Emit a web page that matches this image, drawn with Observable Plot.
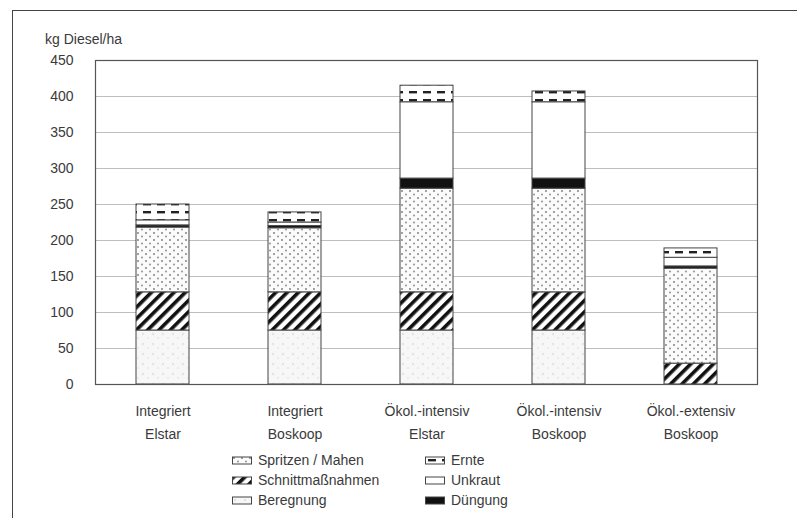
<!DOCTYPE html>
<html>
<head>
<meta charset="utf-8">
<script src="https://cdn.jsdelivr.net/npm/d3@7"></script>
<script src="https://cdn.jsdelivr.net/npm/@observablehq/plot@0.6"></script>
<style>
  html, body { margin: 0; padding: 0; background: #fff; }
  #wrap { position: relative; width: 797px; height: 518px; overflow: hidden;
          font-family: "Liberation Sans", Arial, Helvetica, sans-serif; color: #3a3a3a; }
  #outer { position: absolute; left: 12px; top: 10px; width: 800px; height: 520px;
           border-left: 1.5px solid #444; border-top: 1.5px solid #444; }
  #chart { position: absolute; left: 0; top: 0; }
  #ylabel { position: absolute; left: 45px; top: 31px; font-size: 14px; }
  .leg { position: absolute; font-size: 14px; display: flex; align-items: center; white-space: nowrap; }
  .leg svg { margin-right: 6px; }
</style>
</head>
<body>
<svg width="0" height="0" style="position:absolute">
  <defs>
    <pattern id="hatch" patternUnits="userSpaceOnUse" width="8" height="8" patternTransform="rotate(45)">
      <rect width="8" height="8" fill="#fff"/>
      <rect x="0" y="0" width="3.6" height="8" fill="#111"/>
    </pattern>
    <pattern id="dots" patternUnits="userSpaceOnUse" width="8" height="7">
      <rect width="8" height="7" fill="#fbfbfb"/>
      <circle cx="2" cy="2" r="0.9" fill="#777"/>
      <circle cx="6" cy="5.5" r="0.9" fill="#888"/>
    </pattern>
    <pattern id="dashes" patternUnits="userSpaceOnUse" width="14" height="8">
      <rect width="14" height="8" fill="#fff"/>
      <rect x="3" y="3" width="8" height="2.4" fill="#222"/>
    </pattern>
    <pattern id="light" patternUnits="userSpaceOnUse" width="10" height="10">
      <rect width="10" height="10" fill="#f7f7f7"/>
      <circle cx="3" cy="4" r="1.2" fill="#e4e4e4"/>
      <circle cx="8" cy="8" r="1" fill="#e8e8e8"/>
    </pattern>
  </defs>
</svg>
<div id="wrap">
  <div id="outer"></div>
  <div id="chart"></div>
  <div id="ylabel">kg Diesel/ha</div>
  <div id="legend"></div>
</div>
<script>
// ---- data ----
const categories = ["Integriert\nElstar", "Integriert\nBoskoop", "Ökol.-intensiv\nElstar", "Ökol.-intensiv\nBoskoop", "Ökol.-extensiv\nBoskoop"];
const layers = ["Beregnung", "Schnittmaßnahmen", "Spritzen / Mahen", "Düngung", "Unkraut", "Ernte"];
const beregnung = [75, 75, 75, 75, 0];
const schnitt   = [53, 53, 53, 53, 29];
const spritzen  = [90, 89, 144, 144, 132];
const duengung  = [3, 3, 14, 14, 3];
const unkraut   = [7, 5, 106, 106, 12];
const ernte     = [22, 14, 23, 15, 13];
const yTicks = [0, 50, 100, 150, 200, 250, 300, 350, 400, 450];
const legendRows = [["Spritzen / Mahen", "Ernte"], ["Schnittmaßnahmen", "Unkraut"], ["Beregnung", "Düngung"]];

const fills = {
  "Beregnung": "url(#light)",
  "Schnittmaßnahmen": "url(#hatch)",
  "Spritzen / Mahen": "url(#dots)",
  "Düngung": "#111",
  "Unkraut": "#fff",
  "Ernte": "url(#dashes)"
};

const series = [beregnung, schnitt, spritzen, duengung, unkraut, ernte];
const rows = [];
categories.forEach((c, i) => {
  layers.forEach((l, j) => {
    if (series[j][i] > 0) rows.push({cat: c, layer: l, value: series[j][i]});
  });
});

const chart = Plot.plot({
  width: 797,
  height: 518,
  marginLeft: 95,
  marginRight: 40,
  marginTop: 60,
  marginBottom: 134,
  style: {fontFamily: '"Liberation Sans", Arial, Helvetica, sans-serif', color: "#3a3a3a", background: "transparent"},
  x: {domain: categories, paddingInner: 0.6, paddingOuter: 0.3, axis: null},
  y: {domain: [0, 450], axis: null},
  color: {domain: layers, range: layers.map(l => fills[l])},
  marks: [
    Plot.gridY(yTicks.filter(t => t > 0 && t < 450), {stroke: "#888", strokeOpacity: 0.55}),
    Plot.barY(rows, {x: "cat", y: "value", fill: "layer", stroke: "#444", strokeWidth: 1, order: null}),
    Plot.frame({stroke: "#555", strokeWidth: 1.2}),
    Plot.axisY({ticks: yTicks, tickSize: 0, tickPadding: 22, fontSize: 14, fill: "#3a3a3a", label: null}),
    Plot.text(categories, {x: d => d, text: d => d, frameAnchor: "bottom", dy: 15, lineAnchor: "top", lineHeight: 1.65, fontSize: 14, fill: "#3a3a3a"})
  ]
});
document.getElementById("chart").appendChild(chart);

// ---- legend ----
const legend = document.getElementById("legend");
const colX = [232, 425];
const rowY = [461, 481, 501];
legendRows.forEach((row, r) => {
  row.forEach((name, c) => {
    const div = document.createElement("div");
    div.className = "leg";
    div.style.left = colX[c] + "px";
    div.style.top = (rowY[r] - 9) + "px";
    div.innerHTML = `<svg width="20" height="9"><rect x="0.5" y="1" width="19" height="7" fill="${fills[name]}" stroke="#444" stroke-width="1"/></svg><span>${name}</span>`;
    legend.appendChild(div);
  });
});
</script>
</body>
</html>
